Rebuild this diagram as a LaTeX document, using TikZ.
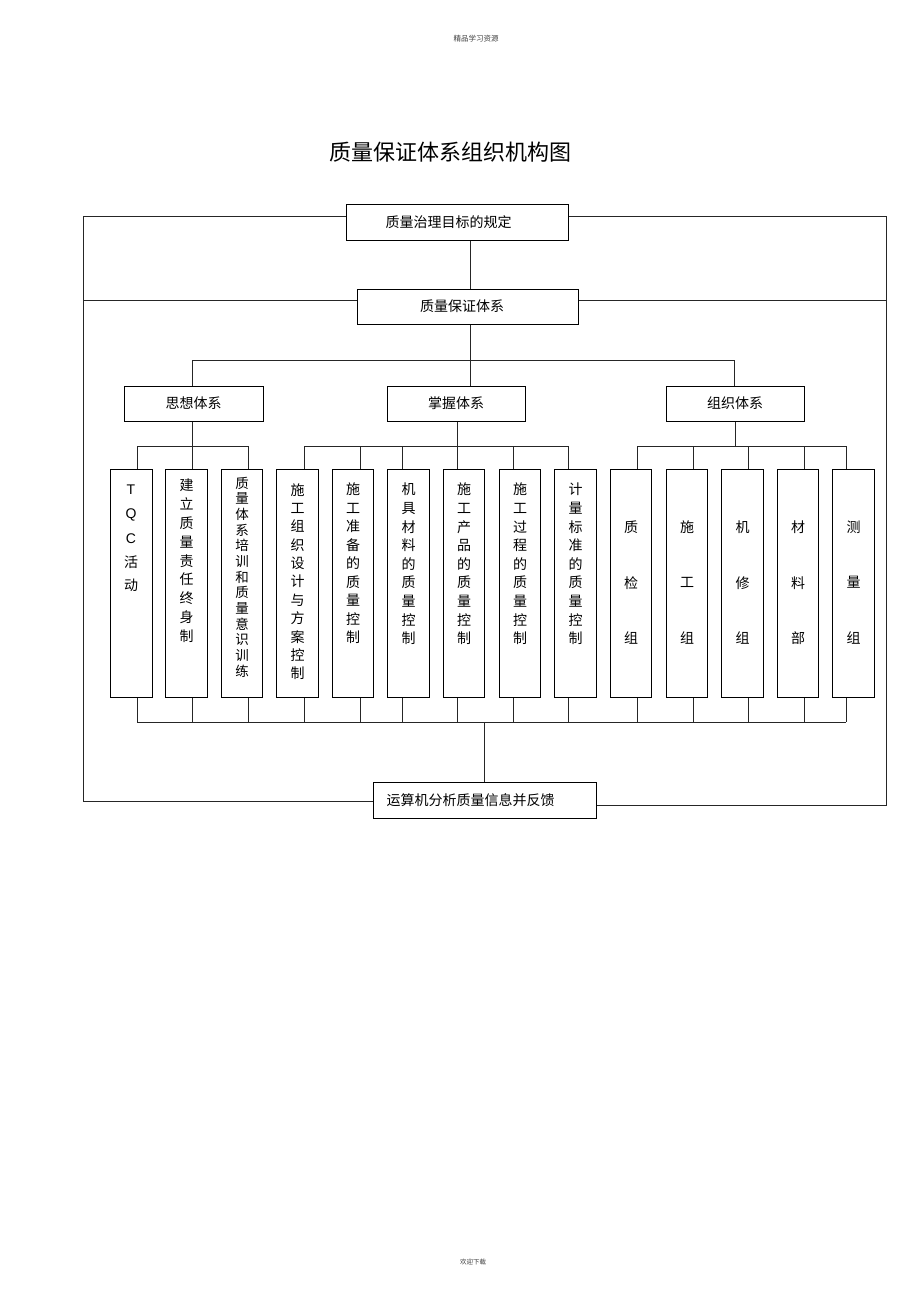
\documentclass[tikz,border=0pt]{standalone}
\usepackage{fontspec}
\setmainfont{Noto Sans CJK SC}
\newfontfamily\latinsans{Liberation Sans}
\newcommand\vtextcol[5]{%
  \foreach \c [count=\k] in {#5} \node[ch] (#1x\k) at (#2,{#3+(\k-1)*#4}) {\c};}
\begin{document}
\begin{tikzpicture}[x=1pt,y=-1pt,
  box/.style={draw=black,line width=1pt,fill=white,inner sep=0pt,font=\fontsize{14}{16}\selectfont},
  tall/.style={draw=black,line width=1pt,fill=white,minimum width=41.5pt,minimum height=228pt,inner sep=0pt},
  conn/.style={draw=black!85,line width=0.9pt},
  ch/.style={inner sep=0pt,font=\fontsize{14}{16}\selectfont},
  small/.style={inner sep=0pt,text=black!75}]
\useasboundingbox[fill=white] (0,0) rectangle (920,1303);

% header, title, footer
\node[small,font=\fontsize{7.5}{9}\selectfont] (hdr) at (476,39) {精品学习资源};
\node[inner sep=0pt,font=\fontsize{22}{26}\selectfont] (title) at (450.5,152) {质量保证体系组织机构图};
\node[small,font=\fontsize{6.5}{8}\selectfont] (ftr) at (473,1262) {欢迎下载};

% top boxes
\node[box,minimum width=222pt,minimum height=36pt] (goal) at (457,222) {};
\node[ch] (goalt) at (448.5,222) {质量治理目标的规定};
\node[box,minimum width=221pt,minimum height=35pt] (qas) at (467.5,306.5) {};
\node[ch] (qast) at (462,306.5) {质量保证体系};

% level 2
\node[box,minimum width=139pt,minimum height=35pt] (sx) at (193.5,403.5) {思想体系};
\node[box,minimum width=138pt,minimum height=35pt] (zw) at (456,403.5) {掌握体系};
\node[box,minimum width=138pt,minimum height=35pt] (zz) at (735,403.5) {组织体系};

% bottom box
\node[box,minimum width=223pt,minimum height=36pt] (fb) at (484.5,800) {};
\node[ch] (fbt) at (470.5,800) {运算机分析质量信息并反馈};

% tall boxes
\foreach \cx [count=\i] in {131.5,186.5,242,297.5,353,408.5,464,520,575.5,631,687,742.5,798,853.5}
  \node[tall] (t\i) at (\cx,583.5) {};

% drop coordinates
\foreach \dx [count=\i] in {137,192,248,304,360,402,457,513,568,637,693,748,804,846}{
  \coordinate (dA\i) at (\dx,446);
  \coordinate (dB\i) at (\dx,722);
}
\foreach \i in {1,...,14}{
  \draw[conn] (dA\i) -- (t\i.north -| dA\i);
  \draw[conn] (t\i.south -| dB\i) -- (dB\i);
}
\draw[conn] (dA1) -- (dA3);
\draw[conn] (dA4) -- (dA9);
\draw[conn] (dA10) -- (dA14);
\draw[conn] (dB1) -- (dB14);

% level 2 to level 3
\coordinate (czz) at (735,446);
\draw[conn] (sx.south -| dA2) -- (dA2);
\draw[conn] (zw.south -| dA7) -- (dA7);
\draw[conn] (zz.south -| czz) -- (czz);

% spine
\coordinate (bus1) at (470,360);
\coordinate (b1L) at (192,360);
\coordinate (b1R) at (734,360);
\draw[conn] (goal.south -| bus1) -- (qas.north -| bus1);
\draw[conn] (qas.south -| bus1) -- (zw.north -| bus1);
\draw[conn] (b1L |- sx.north) -- (b1L) -- (b1R) -- (b1R |- zz.north);

% bottom spine
\coordinate (busB) at (484,722);
\draw[conn] (busB) -- (fb.north -| busB);

% outer frame
\coordinate (fTL) at (83,216);
\coordinate (fTR) at (886.5,216);
\coordinate (fBL) at (83,801);
\coordinate (fBR) at (886.5,805);
\coordinate (m1) at (83,300);
\coordinate (m2) at (886.5,300);
\draw[conn] (goal.west |- fTL) -- (fTL) -- (fBL) -- (fb.west |- fBL);
\draw[conn] (goal.east |- fTR) -- (fTR) -- (fBR) -- (fb.east |- fBR);
\draw[conn] (m1) -- (qas.west |- m1);
\draw[conn] (qas.east |- m2) -- (m2);

% column texts
\node[ch,font=\latinsans\fontsize{14}{16}\selectfont] (c1x1) at (131,489.5) {T};
\node[ch,font=\latinsans\fontsize{14}{16}\selectfont] (c1x2) at (131,515) {Q};
\node[ch,font=\latinsans\fontsize{14}{16}\selectfont] (c1x3) at (131,538.5) {C};
\node[ch] (c1x4) at (131,562) {活};
\node[ch] (c1x5) at (131,585.5) {动};
\vtextcol{c2}{186.5}{485.5}{18.8}{建,立,质,量,责,任,终,身,制}
\begin{scope}[ch/.append style={font=\fontsize{13.5}{15}\selectfont}]
\vtextcol{c3}{242}{483}{15.67}{质,量,体,系,培,训,和,质,量,意,识,训,练}
\end{scope}
\vtextcol{c4}{297.5}{489.7}{18.38}{施,工,组,织,设,计,与,方,案,控,制}
\vtextcol{c5}{353}{489.5}{18.5}{施,工,准,备,的,质,量,控,制}
\vtextcol{c6}{408.5}{489.6}{18.6}{机,具,材,料,的,质,量,控,制}
\vtextcol{c7}{464}{489.6}{18.6}{施,工,产,品,的,质,量,控,制}
\vtextcol{c8}{520}{489.6}{18.6}{施,工,过,程,的,质,量,控,制}
\vtextcol{c9}{575.5}{489.6}{18.6}{计,量,标,准,的,质,量,控,制}
\vtextcol{c10}{631}{527}{55.7}{质,检,组}
\vtextcol{c11}{687}{527}{55.7}{施,工,组}
\vtextcol{c12}{742.5}{527}{55.7}{机,修,组}
\vtextcol{c13}{798}{527}{55.7}{材,料,部}
\vtextcol{c14}{853.5}{527}{55.7}{测,量,组}
\end{tikzpicture}
\end{document}
